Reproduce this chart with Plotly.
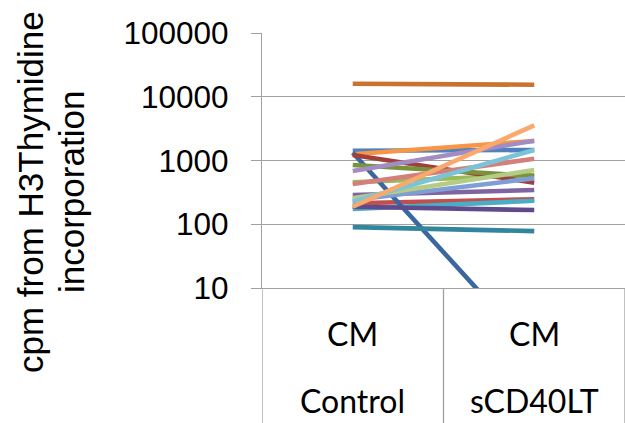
import plotly.graph_objects as go

# Paired cpm readings (H3-thymidine incorporation) for each donor
categories = ["Control", "sCD40LT"]
group_label = "CM"
tick_values = [10, 100, 1000, 10000, 100000]
tick_labels = ["10", "100", "1000", "10000", "100000"]
title_lines = ["cpm from H3Thymidine", "incorporation"]

control = [1425, 213, 455, 288, 173, 1250,
           1325, 1220, 850, 188, 90, 16000,
           240, 428, 255, 684, 226, 188]
scd40lt = [1462, 246, 593, 344, 234, 2024,
           1, 449, 571, 167, 78, 15450,
           526, 1067, 710, 2048, 1462, 3565]

colors = ["#4F81BD", "#C0504D", "#9BBB59", "#8064A2", "#4BACC6", "#F79646",
          "#3A679E", "#A0403C", "#77933C", "#5F4B8B", "#31859C", "#C8732F",
          "#7F9FD4", "#D47F7C", "#B4CC86", "#A28CC2", "#7CC3D8", "#FAA96E"]

fig = go.Figure()
for i, (a, b) in enumerate(zip(control, scd40lt)):
    fig.add_trace(go.Scatter(
        x=categories, y=[a, b], mode="lines",
        line=dict(color=colors[i], width=4.6),
        showlegend=False, hoverinfo="skip"))

grid = "#a0a0a0"
plot_w = 625 - 262
plot_h = 423 - 33 - 135
below = -135 / plot_h

shapes = []
# vertical dividers of the category axis
for xv in [-0.5, 0.5, 1.5]:
    shapes.append(dict(type="line", xref="x", yref="paper",
                       x0=xv, x1=xv, y0=0, y1=below,
                       line=dict(color=grid, width=1.3)))

label_font = dict(family="Lato", size=32, color="black")
annotations = []
for c in categories:
    annotations.append(dict(x=c, xref="x", y=-45 / plot_h, yref="paper",
                            text=group_label, showarrow=False,
                            font=label_font,
                            xanchor="center", yanchor="middle"))
    annotations.append(dict(x=c, xref="x", y=-112 / plot_h, yref="paper",
                            text=c, showarrow=False,
                            font=label_font,
                            xanchor="center", yanchor="middle"))

# two-line rotated axis title
for line_text, cx in zip(title_lines, [30, 71]):
    annotations.append(dict(x=(cx - 262) / plot_w, xref="paper",
                            y=(288 - 192) / plot_h, yref="paper",
                            text=line_text, textangle=-90, showarrow=False,
                            font=dict(family="Liberation Sans, Arial",
                                      size=35, color="black"),
                            xanchor="center", yanchor="middle"))

fig.update_layout(
    width=625, height=423,
    margin=dict(l=262, r=0, t=33, b=135),
    paper_bgcolor="white", plot_bgcolor="white",
    shapes=shapes, annotations=annotations,
    xaxis=dict(type="category", range=[-0.5, 1.5], showticklabels=False,
               showgrid=False, zeroline=False, showline=True,
               linecolor=grid, linewidth=1.3, ticks=""),
    yaxis=dict(type="log", range=[1, 5], tickvals=tick_values,
               ticktext=tick_labels, showgrid=True, gridcolor=grid,
               gridwidth=1.3, zeroline=False, showline=True,
               linecolor=grid, linewidth=1.3, ticks="outside",
               ticklen=10, tickcolor=grid, tickwidth=1.3,
               ticklabelstandoff=16,
               tickfont=dict(family="Liberation Sans, Arial", size=31.5,
                             color="black")),
)

fig.write_html("out.html")
